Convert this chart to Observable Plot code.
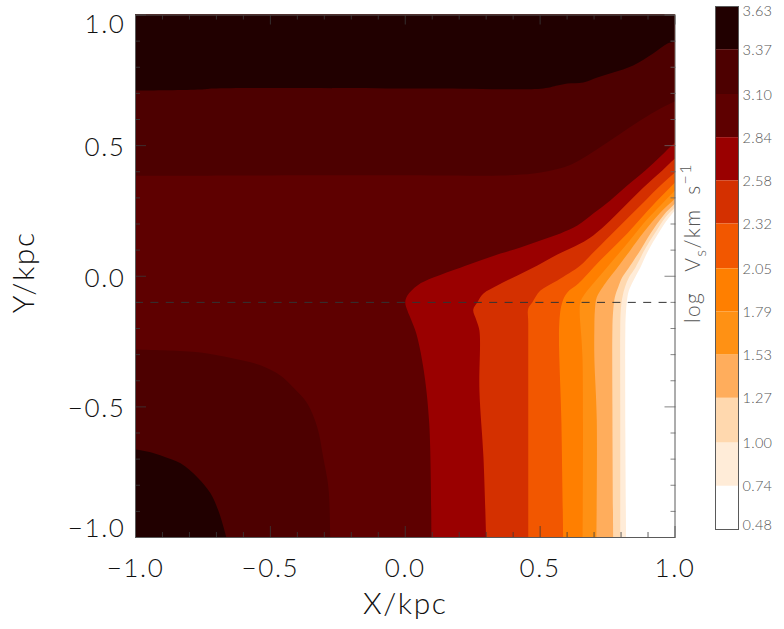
<!DOCTYPE html>
<html>
<head>
<meta charset="utf-8">
<script src="https://cdn.jsdelivr.net/npm/d3@7"></script>
<script src="https://cdn.jsdelivr.net/npm/@observablehq/plot@0.6"></script>
<style>
html,body{margin:0;padding:0;background:#fff}
#c{position:relative;width:784px;height:629px;overflow:hidden}
#c svg{position:absolute;left:0;top:0;background:transparent}
</style>
</head>
<body>
<div id="c"></div>
<script>
// Colour-bar levels (log Vs / km s^-1) and the palette between them, top to bottom
const levels = [3.63,3.37,3.10,2.84,2.58,2.32,2.05,1.79,1.53,1.27,1.00,0.74,0.48];
const bandColors = ["#210000","#4d0000","#5e0000","#9a0000","#d43000","#f25700","#ff7f00","#ff9114","#ffad5c","#ffd8ae","#ffecd8","#ffffff"];
const axisTicks = [-1,-0.5,0,0.5,1];
const innerTicks = [-0.5,0,0.5];
const minorTicks = [-0.9,-0.8,-0.7,-0.6,-0.4,-0.3,-0.2,-0.1,0.1,0.2,0.3,0.4,0.6,0.7,0.8,0.9];
const slitY = -0.1;

// Contour boundaries, [X/kpc, Y/kpc]
const c074 = [[.819,-1.05],[.816,-.6],[.816,-.2],[.818,-.14],[.822,-.093],[.829,-.055],[.846,-.016],[.871,.033],[.901,.099],[.938,.164],[.975,.221],[1,.252],[1.05,.30]];
const c100 = [[.797,-1.05],[.797,-.5],[.797,-.2],[.799,-.13],[.805,-.08],[.815,-.04],[.830,-.003],[.853,.033],[.890,.106],[.927,.167],[.964,.225],[1,.263],[1.05,.31]];
const c127 = [[.771,-1.05],[.768,-.5],[.768,-.2],[.771,-.13],[.777,-.08],[.790,-.04],[.805,-.003],[.827,.030],[.871,.099],[.909,.164],[.957,.233],[1,.278],[1.05,.33]];
const c153 = [[.708,-1.05],[.710,-.55],[.701,-.31],[.701,-.2],[.703,-.13],[.710,-.08],[.733,-.04],[.749,-.016],[.786,.033],[.834,.099],[.883,.167],[.946,.244],[1,.298],[1.05,.35]];
const c179 = [[.657,-1.05],[.657,-.31],[.649,-.181],[.647,-.15],[.649,-.1],[.664,-.07],[.697,-.028],[.760,.049],[.823,.125],[.883,.202],[.946,.271],[1,.328],[1.05,.38]];
const c205 = [[.586,-1.05],[.579,-.564],[.571,-.181],[.582,-.1],[.601,-.062],[.642,-.028],[.697,.033],[.760,.099],[.823,.164],[.883,.233],[.946,.302],[1,.359],[1.05,.41]];
const c232 = [[.456,-1.05],[.456,-.181],[.456,-.123],[.471,-.100],[.501,-.055],[.564,-.016],[.649,.041],[.697,.091],[.760,.156],[.823,.221],[.883,.282],[.946,.347],[1,.397],[1.05,.44]];
const c258 = [[.301,-1.05],[.290,-.694],[.275,-.437],[.275,-.208],[.264,-.169],[.252,-.128],[.267,-.100],[.290,-.066],[.341,-.035],[.416,.003],[.490,.041],[.564,.083],[.649,.125],[.697,.156],[.760,.213],[.823,.278],[.883,.340],[.953,.405],[1,.451],[1.05,.49]];
const c284 = [[.097,-1.05],[.089,-.564],[.067,-.349],[.041,-.219],[.023,-.169],[.008,-.131],[0,-.1],[.008,-.074],[.045,-.035],[.104,-.005],[.204,.033],[.278,.060],[.353,.087],[.427,.110],[.501,.137],[.575,.164],[.638,.194],[.697,.240],[.760,.290],[.823,.347],[.890,.405],[.946,.458],[1,.512],[1.05,.55]];
const c310Top = [[-1.05,.384],[-.5,.386],[.1,.386],[.353,.386],[.475,.393],[.575,.413],[.625,.433],[.675,.462],[.771,.527],[.871,.596],[.946,.642],[1,.670],[1.05,.70]];
const c310Low = [[-1.05,-.279],[-1,-.280],[-.881,-.284],[-.759,-.292],[-.637,-.315],[-.537,-.341],[-.463,-.38],[-.415,-.426],[-.363,-.487],[-.326,-.579],[-.304,-.694],[-.285,-.808],[-.278,-1],[-.277,-1.05]];
const c337Top = [[-1.05,.711],[-1,.711],[-.759,.715],[-.711,.719],[.1,.719],[.512,.719],[.564,.730],[.601,.738],[.660,.742],[.712,.761],[.771,.780],[.845,.807],[.919,.853],[.972,.891],[1,.899],[1.05,.92]];
const c337Low = [[-1.05,-.661],[-1,-.663],[-.944,-.674],[-.896,-.690],[-.833,-.716],[-.770,-.770],[-.722,-.831],[-.693,-.897],[-.663,-1],[-.65,-1.05]];

const far = [[1.5,1.5],[-1.5,1.5],[-1.5,-1.5]];
const nearLow = [[-1.5,-1.5]];
const region = (pts, fill) => Plot.line(pts, {x:d=>d[0], y:d=>d[1], fill, stroke:"none", curve:"catmull-rom", clip:true});

const fontMain = "'Lato','Open Sans',sans-serif";
const tickColor = "#3a3a3a";
const ink = "#111";
const fmt = d3.format(".1f");
const yLabel = (values, dy) => Plot.text(values, {x:-1, y:d=>d, text:d=>fmt(d), textAnchor:"end", dx:-10, dy, fontSize:26, fontWeight:300, fill:ink});

const main = Plot.plot({
  width:784, height:629,
  marginLeft:135, marginRight:109.5, marginTop:14.5, marginBottom:92,
  style:{background:"transparent", fontFamily:fontMain},
  x:{domain:[-1,1], axis:null},
  y:{domain:[-1,1], axis:null},
  marks:[
    region(c074.concat(far), bandColors[10]),
    region(c100.concat(far), bandColors[9]),
    region(c127.concat(far), bandColors[8]),
    region(c153.concat(far), bandColors[7]),
    region(c179.concat(far), bandColors[6]),
    region(c205.concat(far), bandColors[5]),
    region(c232.concat(far), bandColors[4]),
    region(c258.concat(far), bandColors[3]),
    region(c284.concat(far), bandColors[2]),
    region(c310Top.concat([[1.5,1.5],[-1.5,1.5]]), bandColors[1]),
    region(c310Low.concat(nearLow), bandColors[1]),
    region(c337Top.concat([[1.5,1.5],[-1.5,1.5]]), bandColors[0]),
    region(c337Low.concat(nearLow), bandColors[0]),
    Plot.ruleY([slitY], {stroke:"#333", strokeWidth:1, strokeDasharray:"8,7.4"}),
    // inward ticks on all four sides
    Plot.axisX({anchor:"bottom", ticks:axisTicks, tickSize:-11, text:null, label:null, stroke:tickColor, strokeWidth:0.8}),
    Plot.axisX({anchor:"bottom", ticks:minorTicks, tickSize:-5, text:null, label:null, stroke:tickColor, strokeWidth:0.8}),
    Plot.axisX({anchor:"top", ticks:axisTicks, tickSize:-9, text:null, label:null, stroke:tickColor, strokeWidth:0.8}),
    Plot.axisX({anchor:"top", ticks:minorTicks, tickSize:-4, text:null, label:null, stroke:tickColor, strokeWidth:0.8}),
    Plot.axisY({anchor:"left", ticks:axisTicks, tickSize:-11, text:null, label:null, stroke:tickColor, strokeWidth:0.8}),
    Plot.axisY({anchor:"left", ticks:minorTicks, tickSize:-5, text:null, label:null, stroke:tickColor, strokeWidth:0.8}),
    Plot.axisY({anchor:"right", ticks:axisTicks, tickSize:-11, text:null, label:null, stroke:"#666", strokeWidth:0.8}),
    Plot.axisY({anchor:"right", ticks:minorTicks, tickSize:-5, text:null, label:null, stroke:"#666", strokeWidth:0.8}),
    Plot.frame({stroke:"#5a5a5a", strokeWidth:1}),
    // tick labels and axis titles
    Plot.text(axisTicks, {x:d=>d, y:-1, text:d=>fmt(d), dy:31.5, fontSize:26, fontWeight:300, fill:ink}),
    yLabel(innerTicks, 2),
    yLabel([1], 9.5),
    yLabel([-1], -8.5),
    Plot.text(["X/kpc"], {frameAnchor:"bottom", lineAnchor:"middle", dy:67, fontSize:30, fontWeight:300, fill:ink}),
    Plot.text(["Y/kpc"], {frameAnchor:"left", textAnchor:"middle", dx:-111, dy:-4, rotate:-90, fontSize:30, fontWeight:300, fill:ink})
  ]
});
document.getElementById("c").appendChild(main);
d3.select(main).selectAll("text").style("letter-spacing","1.6px");

// Colour bar
const bands = bandColors.map((fill,i)=>({hi:levels[i], lo:levels[i+1], fill}));
const labelRows = levels.slice(1,-1);
const barLabel = (values, dy) => Plot.text(values,{y:d=>d, text:d=>d.toFixed(2), frameAnchor:"right", textAnchor:"start", dx:4, dy, fontSize:14.5, fill:"#555", fontWeight:300});
const bar = Plot.plot({
  width:784, height:629,
  marginLeft:715, marginRight:46, marginTop:6, marginBottom:100,
  style:{background:"transparent", fontFamily:fontMain},
  x:{axis:null},
  y:{domain:[0.48,3.63], axis:null},
  color:{type:"identity"},
  marks:[
    Plot.rectY(bands,{y1:"lo", y2:"hi", fill:"fill"}),
    Plot.frame({stroke:"#5a5a5a", strokeWidth:1}),
    barLabel(labelRows, 0.5),
    barLabel([levels[0]], 5),
    barLabel([levels[12]], -4)
  ]
});
document.getElementById("c").appendChild(bar);
d3.select(bar).selectAll("text").style("letter-spacing","0.3px");

// Colour-bar title, rotated, with subscript and superscript
d3.select(bar).append("text")
  .attr("transform","translate(700,323) rotate(-90)")
  .attr("text-anchor","start")
  .attr("font-size",21).attr("font-weight",300).attr("fill","#555")
  .attr("font-family",fontMain)
  .style("white-space","pre").style("letter-spacing","1.3px")
  .html('log   V<tspan dy="6" font-size="16">s</tspan><tspan dy="-6">/km  s</tspan><tspan dy="-9" font-size="16">−1</tspan>');
</script>
</body>
</html>
